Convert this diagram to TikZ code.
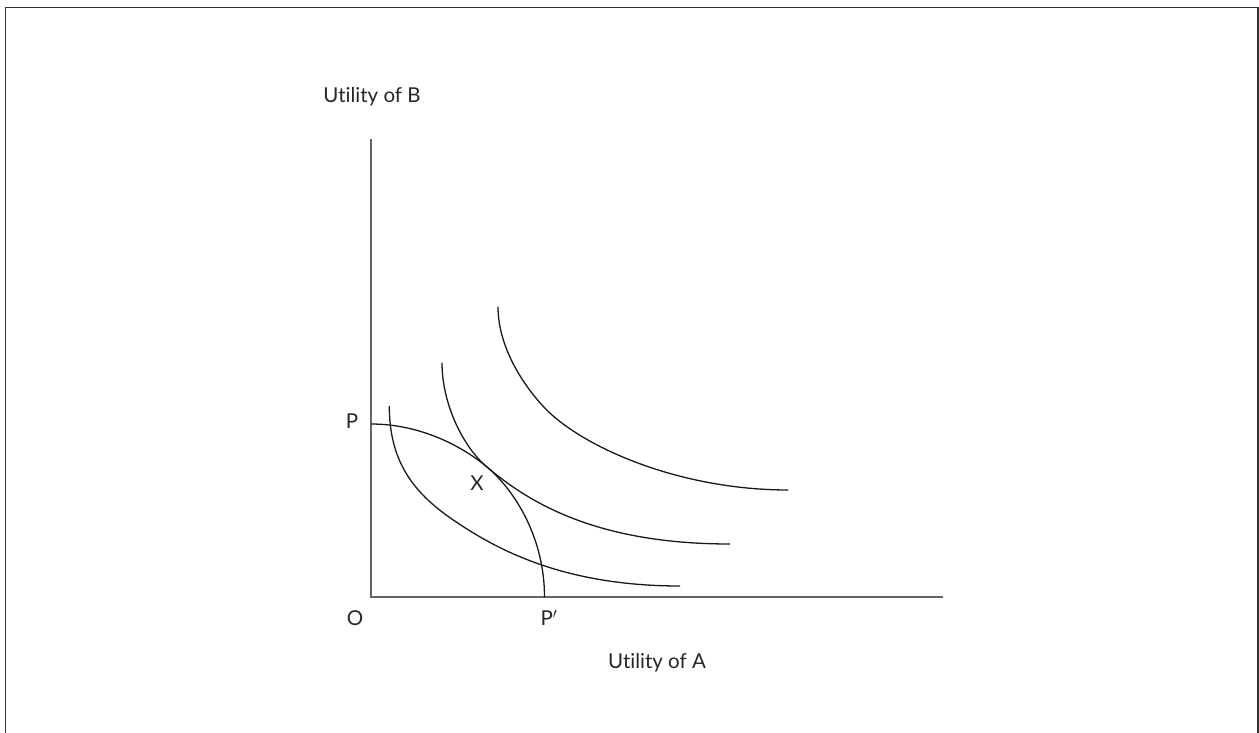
\documentclass[tikz,border=0pt]{standalone}
\usepackage{fontspec}
\setmainfont{Lato}[Ligatures=NoCommon]
\begin{document}
\begin{tikzpicture}[x=1pt,y=-1pt,
  lbl/.style={inner sep=0pt, font=\fontsize{20.5}{24}\selectfont, text=black!85},
  axis/.style={line width=1.6pt, draw=black!60},
  curve/.style={line width=1.3pt, draw=black!90},
  frame/.style={line width=1.6pt, draw=black!80}]
\useasboundingbox (0,0) rectangle (1259,733);
% frame (open at the bottom)
\coordinate (fbl) at (5.5,733);
\coordinate (ftl) at (5.5,7.5);
\coordinate (ftr) at (1258,7.5);
\coordinate (fbr) at (1258,733);
\draw[frame] (fbl) -- (ftl) -- (ftr) -- (fbr);
% axes
\coordinate (O) at (371,597);
\coordinate (ytop) at (371,139);
\coordinate (xend) at (943,597);
\draw[axis] (ytop) -- (O) -- (xend);
% labels
\node[lbl] (uB) at (372,97) {Utility of B};
\node[lbl] (uA) at (657,663) {Utility of A};
\node[lbl] (lP) at (352,421.5) {P};
\node[lbl] (lO) at (355,618) {O};
\node[lbl] (lPp) at (549,618) {P$'$};
\node[lbl] (lX) at (477,483) {X};
% production possibility frontier
\coordinate (P) at (371,424);
\coordinate (Pp) at (544.5,597);
\coordinate (X) at (487,467);
\draw[curve] (P) .. controls (420,424) and (462,446) .. (X)
  .. controls (517,492.5) and (544.5,540) .. (Pp);
% indifference curves
\coordinate (a1) at (389.3,406);
\coordinate (m1) at (453.3,520);
\coordinate (b1) at (680,586);
\draw[curve] (a1) .. controls (389.3,460) and (412,492) .. (m1)
  .. controls (493.3,547.2) and (560,586) .. (b1);
\coordinate (a2) at (442,362.7);
\coordinate (b2) at (730,544);
\draw[curve] (a2) .. controls (442,405) and (464,448) .. (X)
  .. controls (531.7,505) and (600,544) .. (b2);
\coordinate (a3) at (498,306.7);
\coordinate (m3) at (546.7,410);
\coordinate (b3) at (788.3,490);
\draw[curve] (a3) .. controls (498,350) and (527,390) .. (m3)
  .. controls (585,448) and (680,490) .. (b3);
\end{tikzpicture}
\end{document}
